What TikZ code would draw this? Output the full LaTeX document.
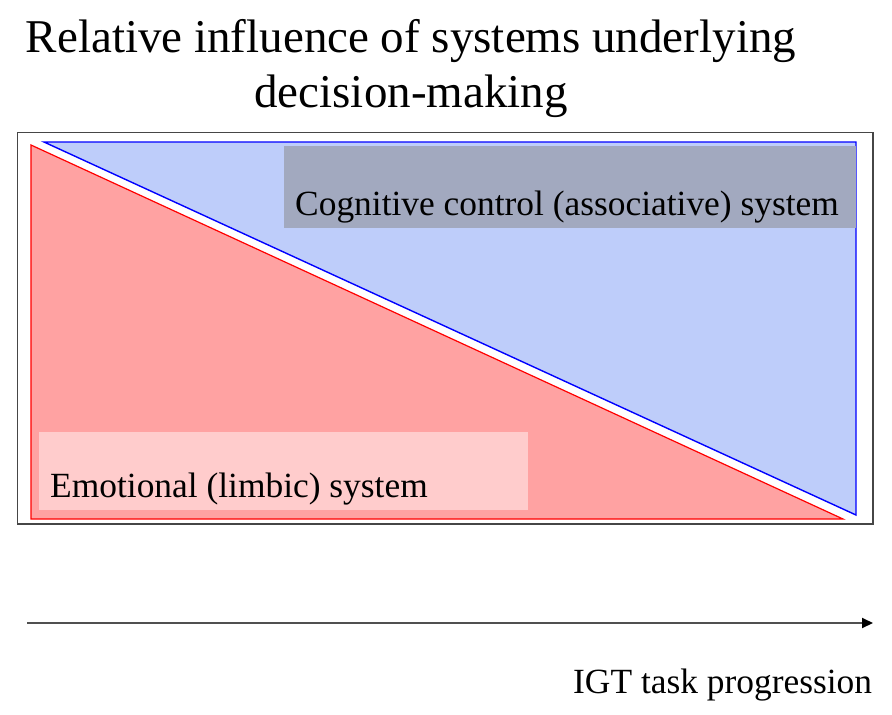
\documentclass[tikz,border=0pt]{standalone}
\usepackage{fontspec}
\setmainfont{Liberation Serif}
\usetikzlibrary{arrows.meta}
\definecolor{bluefill}{RGB}{190,205,250}
\definecolor{redfill}{RGB}{255,162,162}
\definecolor{grayfill}{RGB}{162,169,191}
\definecolor{pinkfill}{RGB}{255,204,204}
\definecolor{framecol}{RGB}{70,70,70}
\definecolor{arrowcol}{RGB}{80,80,80}
\tikzset{
  lbl/.style={font=\fontsize{35.4}{40}\selectfont, inner sep=0pt, anchor=base west},
  ttl/.style={font=\fontsize{47}{52}\selectfont, inner sep=0pt, anchor=base},
  panel/.style={inner sep=0pt, outer sep=0pt, anchor=north west}
}
\begin{document}
\begin{tikzpicture}[x=1pt,y=-1pt]
\useasboundingbox (0,0) rectangle (892,715);
% title
\node[ttl] (t1) at (411,52) {Relative influence of systems underlying};
\node[ttl] (t2) at (411,107) {decision-making};
% frame
\draw[framecol, line width=1.6pt] (17.5,132.5) rectangle (873,524);
% blue triangle
\filldraw[fill=bluefill, draw=blue, line width=1.4pt, line join=miter] (44,142) -- (856,142) -- (856,515) -- cycle;
% red triangle
\filldraw[fill=redfill, draw=red, line width=1.2pt, line join=miter] (31,145) -- (31,519) -- (843,519) -- cycle;
% gray label box
\node[panel, fill=grayfill, minimum width=572pt, minimum height=82pt] (gbox) at (284,145.5) {};
\node[lbl] (cog) at (295,215) {Cognitive control (associative) system};
% pink label box
\node[panel, fill=pinkfill, minimum width=489pt, minimum height=78pt] (pbox) at (39,432) {};
\node[lbl] (emo) at (50,497) {Emotional (limbic) system};
% arrow
\coordinate (a0) at (27,623);
\coordinate (a1) at (873,623);
\draw[arrowcol, line width=2pt, -{Triangle[length=11pt,width=10pt,fill=black,color=black]}] (a0) -- (a1);
\node[lbl] (igt) at (573,693) {IGT task progression};
\end{tikzpicture}
\end{document}
